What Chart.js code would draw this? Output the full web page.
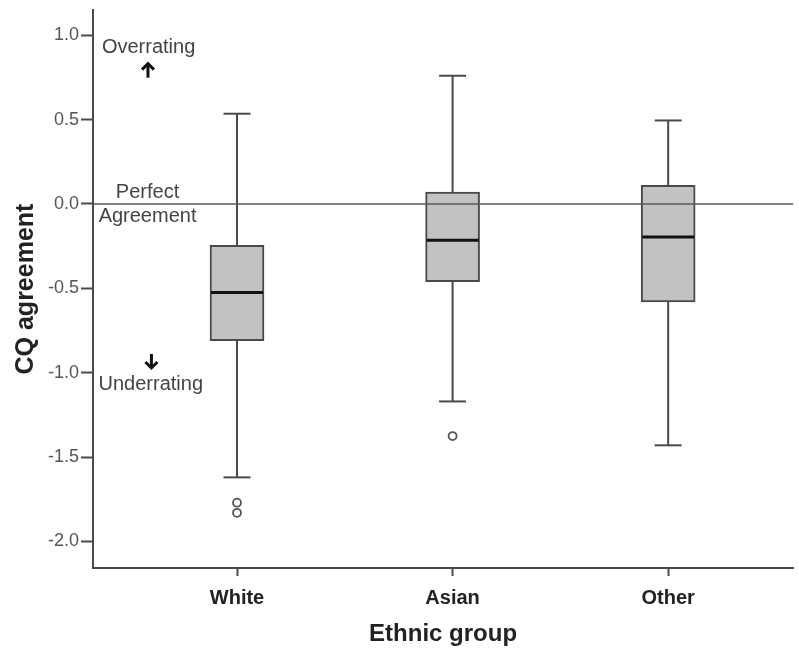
<!DOCTYPE html>
<html>
<head>
<meta charset="utf-8">
<script src="https://cdn.jsdelivr.net/npm/chart.js@4.4.1/dist/chart.umd.min.js"></script>
<style>
  body { margin: 0; background: #fff; }
  #wrap { width: 799px; height: 649px; }
</style>
</head>
<body>
<div id="wrap"><canvas id="myChart" width="799" height="649"></canvas></div>
<script>
// box plot summary
var groups = ['White', 'Asian', 'Other'];
var whiskerLow = [-1.62, -1.17, -1.43];
var q1 = [-0.81, -0.46, -0.58];
var median = [-0.525, -0.215, -0.195];
var q3 = [-0.245, 0.07, 0.11];
var whiskerHigh = [0.535, 0.76, 0.495];
var outlierGroup = [0, 0, 1];
var outlierValue = [-1.77, -1.83, -1.375];
var yTicks = [-2.0, -1.5, -1.0, -0.5, 0.0, 0.5, 1.0];

// text notes in data units (x = group index, y = agreement)
var notes = [
  { text: 'Overrating', x: -0.41, y: 0.925 },
  { text: 'Perfect', x: -0.415, y: 0.07 },
  { text: 'Agreement', x: -0.415, y: -0.072 },
  { text: 'Underrating', x: -0.40, y: -1.072 }
];
var arrows = [
  { dir: 'up', x: -0.413, y: 0.79 },
  { dir: 'down', x: -0.397, y: -0.93 }
];

var ctx = document.getElementById('myChart');

var boxData = groups.map(function (g, i) {
  return { x: i, y: [q1[i], q3[i]] };
});
var outData = outlierValue.map(function (v, i) {
  return { x: outlierGroup[i], y: v };
});

var boxPlugin = {
  id: 'boxExtras',
  afterDatasetsDraw: function (chart) {
    var c = chart.ctx;
    var xs = chart.scales.x, ys = chart.scales.y;
    var area = chart.chartArea;
    c.save();

    // whiskers and caps
    c.strokeStyle = '#4a4a4a';
    c.lineWidth = 2;
    groups.forEach(function (g, i) {
      var px = xs.getPixelForValue(i);
      var segs = [[q3[i], whiskerHigh[i]], [q1[i], whiskerLow[i]]];
      segs.forEach(function (s) {
        c.beginPath();
        c.moveTo(px, ys.getPixelForValue(s[0]));
        c.lineTo(px, ys.getPixelForValue(s[1]));
        c.stroke();
        c.beginPath();
        c.moveTo(px - 13.5, ys.getPixelForValue(s[1]));
        c.lineTo(px + 13.5, ys.getPixelForValue(s[1]));
        c.stroke();
      });
    });

    // reference line at zero
    var y0 = ys.getPixelForValue(0);
    c.strokeStyle = '#5a5a5a';
    c.lineWidth = 1.5;
    c.beginPath();
    c.moveTo(area.left, y0);
    c.lineTo(area.right, y0);
    c.stroke();

    // medians
    c.strokeStyle = '#111';
    c.lineWidth = 3;
    groups.forEach(function (g, i) {
      var px = xs.getPixelForValue(i);
      var py = ys.getPixelForValue(median[i]);
      c.beginPath();
      c.moveTo(px - 26, py);
      c.lineTo(px + 26, py);
      c.stroke();
    });

    // notes
    c.fillStyle = '#444';
    c.font = '20px "Liberation Sans", Arial, sans-serif';
    c.textAlign = 'center';
    c.textBaseline = 'middle';
    notes.forEach(function (n) {
      c.fillText(n.text, xs.getPixelForValue(n.x), ys.getPixelForValue(n.y));
    });

    // arrows
    c.strokeStyle = '#111';
    c.lineWidth = 3;
    arrows.forEach(function (a) {
      var ax = xs.getPixelForValue(a.x);
      var ay = ys.getPixelForValue(a.y);
      var s = a.dir === 'up' ? -1 : 1;
      c.beginPath();
      c.moveTo(ax, ay - 7 * s);
      c.lineTo(ax, ay + 7 * s);
      c.stroke();
      c.beginPath();
      c.moveTo(ax - 6, ay + 1 * s);
      c.lineTo(ax, ay + 7 * s);
      c.lineTo(ax + 6, ay + 1 * s);
      c.stroke();
    });
    c.restore();
  }
};

var chart = new Chart(ctx, {
  type: 'bar',
  data: {
    datasets: [{
      label: 'IQR',
      data: boxData,
      backgroundColor: '#c2c2c2',
      borderColor: '#4a4a4a',
      borderWidth: 2,
      borderSkipped: false,
      barThickness: 54,
      order: 2
    }, {
      type: 'line',
      label: 'Outliers',
      data: outData,
      showLine: false,
      pointStyle: 'circle',
      pointRadius: 4,
      pointBackgroundColor: '#fff',
      pointBorderColor: '#555',
      pointBorderWidth: 1.8,
      order: 1
    }]
  },
  options: {
    responsive: false,
    devicePixelRatio: 1,
    animation: false,
    layout: { padding: { top: 6, right: 0, left: 0, bottom: 0 } },
    plugins: {
      legend: { display: false },
      tooltip: { enabled: false }
    },
    scales: {
      x: {
        type: 'linear',
        offset: false,
        min: -0.668,
        max: 2.58,
        afterBuildTicks: function (scale) {
          scale.ticks = groups.map(function (g, i) { return { value: i }; });
        },
        afterFit: function (scale) { scale.height = 81; },
        ticks: {
          callback: function (v) { return groups[v]; },
          color: '#222',
          font: { family: '"Liberation Sans", Arial, sans-serif', size: 20, weight: 'bold' },
          padding: 10,
          maxRotation: 0
        },
        grid: { offset: false, drawOnChartArea: false, tickLength: 8, tickColor: '#4a4a4a', tickWidth: 2 },
        border: { color: '#4a4a4a', width: 2 },
        title: {
          display: true,
          text: 'Ethnic group',
          color: '#222',
          font: { family: '"Liberation Sans", Arial, sans-serif', size: 24, weight: 'bold' },
          padding: 0
        }
      },
      y: {
        min: -2.157,
        max: 1.149,
        afterBuildTicks: function (scale) {
          scale.ticks = yTicks.map(function (v) { return { value: v }; });
        },
        afterFit: function (scale) { scale.width = 93; },
        ticks: {
          callback: function (v) { return v.toFixed(1); },
          color: '#555',
          font: { family: '"Liberation Sans", Arial, sans-serif', size: 18, lineHeight: 0.9 },
          padding: 2
        },
        grid: { drawOnChartArea: false, tickLength: 12, tickColor: '#4a4a4a', tickWidth: 2 },
        border: { color: '#4a4a4a', width: 2 },
        title: {
          display: true,
          text: 'CQ agreement',
          color: '#222',
          font: { family: '"Liberation Sans", Arial, sans-serif', size: 25, weight: 'bold' },
          padding: 11
        }
      }
    }
  },
  plugins: [boxPlugin]
});
</script>
</body>
</html>
